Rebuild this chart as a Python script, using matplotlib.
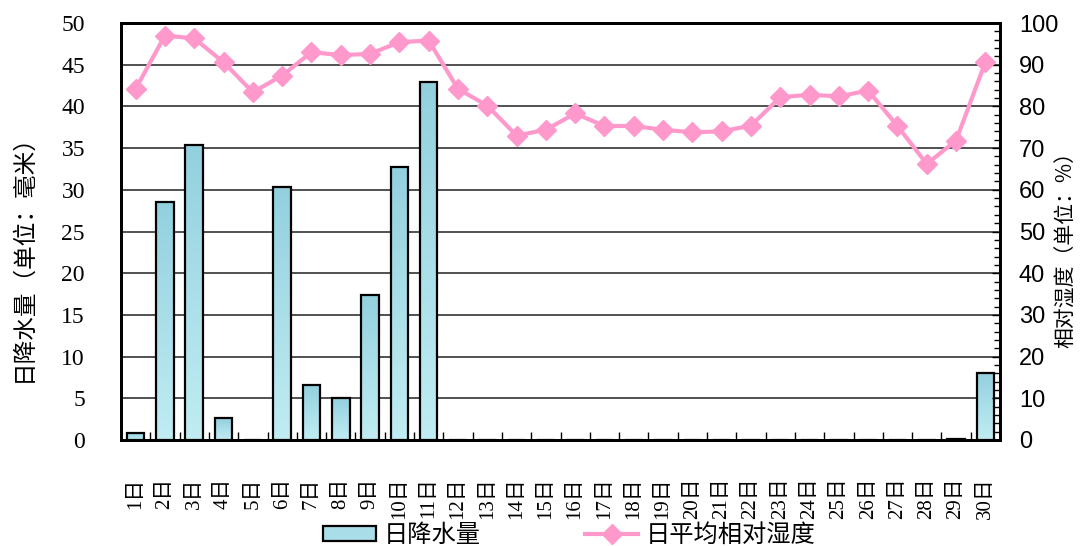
import matplotlib
matplotlib.use("Agg")
import matplotlib.pyplot as plt
import numpy as np
from matplotlib.ticker import MultipleLocator, FixedLocator
from matplotlib.lines import Line2D
from matplotlib.patches import Patch
from matplotlib.colors import LinearSegmentedColormap

plt.rcParams['font.family'] = ['Noto Sans CJK SC', 'DejaVu Sans']

days = [f"{i}日" for i in range(1, 31)]
rain = [0.8, 28.5, 35.4, 2.6, 0.0, 30.3, 6.6, 5.0, 17.4, 32.7,
        42.9, 0, 0, 0, 0, 0, 0, 0, 0, 0,
        0, 0, 0, 0, 0, 0, 0, 0, 0.1, 8.05]
humidity = [84.2, 97.0, 96.3, 90.6, 83.4, 87.4, 93.0, 92.3, 92.6, 95.4,
            95.8, 84.2, 80.2, 73.0, 74.4, 78.3, 75.3, 75.3, 74.4, 73.8,
            74.0, 75.4, 82.2, 82.8, 82.4, 83.8, 75.3, 66.2, 71.8, 90.6]

fig = plt.figure(figsize=(10.83, 5.46), dpi=100)
ax = fig.add_axes([121/1083, 1-440/546, (1000-121)/1083, (440-23)/546])
ax2 = ax.twinx()

x = np.arange(1, 31)
bar_color = '#a9dde8'
pink = '#ff99cc'
grad_cmap = LinearSegmentedColormap.from_list('water', ['#c0ecf3', '#aadfe9', '#93d0de'])

ax.set_zorder(1)
ax.patch.set_visible(False)
ax2.set_zorder(2)

bars = ax.bar(x, rain, width=0.6, color=bar_color, edgecolor='none', zorder=3)
grad = np.linspace(0, 1, 64).reshape(-1, 1)
for rect in bars:
    h = rect.get_height()
    if h > 0:
        x0, w = rect.get_x(), rect.get_width()
        ax.imshow(grad, extent=[x0, x0 + w, 0, h], origin='lower', aspect='auto',
                  cmap=grad_cmap, zorder=3.5, clip_path=rect, interpolation='bilinear')
ax.bar(x, rain, width=0.6, fill=False, edgecolor='black', linewidth=1.6, zorder=4)

ax.set_ylim(0, 50)
ax.set_xlim(0.5, 30.5)
ax.set_aspect('auto')
ax.yaxis.set_major_locator(MultipleLocator(5))
ax.grid(axis='y', color='#333333', linewidth=1.2, zorder=0)
ax.tick_params(axis='y', length=0, pad=26)
for lbl in ax.get_yticklabels():
    lbl.set_fontfamily(['Liberation Serif'])
    lbl.set_fontsize(17)

ax.set_xticks(x)
ax.set_xticklabels(days, rotation=90, fontsize=15,
                   fontfamily=['Liberation Serif', 'Noto Sans CJK SC'])
ax.tick_params(axis='x', which='major', length=0, pad=27)
ax.xaxis.set_minor_locator(FixedLocator(np.arange(1.5, 30.5, 1)))
ax.tick_params(axis='x', which='minor', direction='in', length=6, width=1, color='black')

ax2.plot(x, humidity, color=pink, linewidth=3, marker='D', markersize=10, zorder=4)
ax2.set_ylim(0, 100)
ax2.yaxis.set_major_locator(MultipleLocator(10))
ax2.yaxis.set_minor_locator(MultipleLocator(2))
ax2.tick_params(axis='y', which='major', direction='in', length=6, width=1, pad=13.5)
ax2.tick_params(axis='y', which='minor', direction='in', length=4, width=1)
for lbl in ax2.get_yticklabels():
    lbl.set_fontfamily(['Liberation Sans'])
    lbl.set_fontsize(17)
ax2.set_xlim(0.5, 30.5)

for a in (ax, ax2):
    for s in a.spines.values():
        s.set_linewidth(2)
        s.set_color('black')

fig.text(23/1083, 1-252/546, "日降水量（单位：毫米）", rotation=90, fontsize=17,
         ha='center', va='center')
fig.text(1066/1083, 1-245/546, "相对湿度（单位：%）", rotation=90, fontsize=15,
         ha='center', va='center')

handles = [Patch(facecolor=bar_color, edgecolor='black', linewidth=1.6),
           Line2D([0], [0], color=pink, linewidth=3, marker='D', markersize=10)]
fig.legend(handles, ["日降水量", "日平均相对湿度"], loc='center', ncol=2,
           bbox_to_anchor=(569/1083, 1-535/546), frameon=False, fontsize=17.5,
           columnspacing=4.3, handlelength=2.2, handleheight=0.6,
           handletextpad=0.3, borderpad=0)

fig.savefig("out.png", dpi=100)
